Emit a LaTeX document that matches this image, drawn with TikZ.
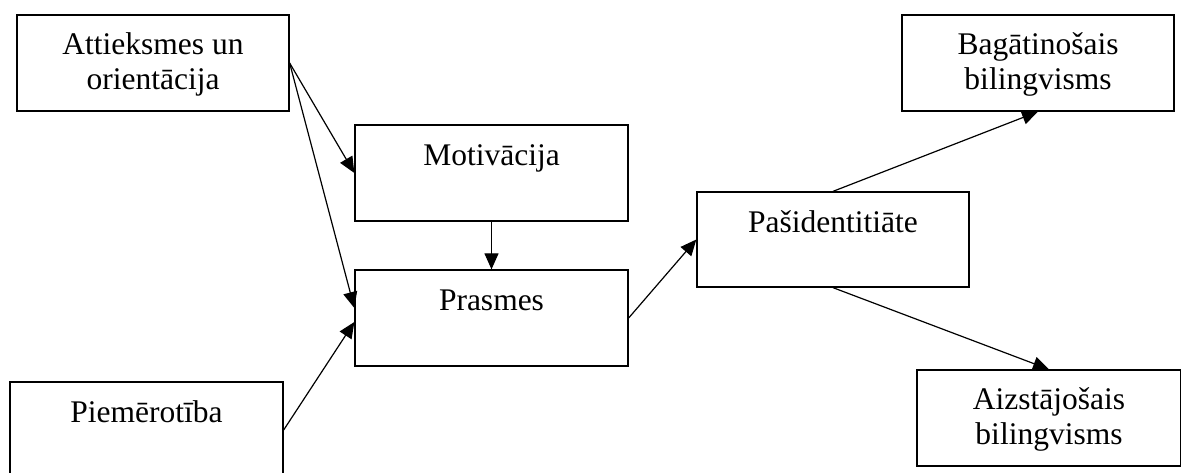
\documentclass[tikz,border=0pt]{standalone}
\usepackage{fontspec}
\setmainfont{Liberation Serif}
\usetikzlibrary{arrows.meta}
\begin{document}
\begin{tikzpicture}[x=1pt,y=-1pt,
  box/.style={draw=black, line width=1.3pt, inner sep=0pt, minimum width=#1, minimum height=96pt},
  box/.default=273pt,
  lbl/.style={inner sep=0pt, align=center, anchor=base, font=\fontsize{31.5}{35}\selectfont},
  arr/.style={line width=1.2pt, -{Triangle[length=16pt,width=14pt]}}]
\useasboundingbox (0,0) rectangle (1181,472);
% boxes
\node[box=272pt] (att) at (153,63) {};
\node[box] (mot) at (491.5,173) {};
\node[box] (pras) at (491.5,318) {};
\node[box] (pie) at (146.5,430) {};
\node[box=272pt, minimum height=95pt] (pas) at (833,239.5) {};
\node[box=272pt] (bag) at (1038,63) {};
\node[box=264pt] (aiz) at (1049,418) {};
% texts
\node[lbl] (tatt) at ([yshift=-75pt]att.north) {Attieksmes un\\orientācija};
\node[lbl] (tmot) at ([yshift=-41pt]mot.north) {Motivācija};
\node[lbl] (tpras) at ([yshift=-41pt]pras.north) {Prasmes};
\node[lbl] (tpie) at ([yshift=-41pt]pie.north) {Piemērotība};
\node[lbl] (tpas) at ([yshift=-41pt]pas.north) {Pašidentitiāte};
\node[lbl] (tbag) at ([yshift=-75pt]bag.north) {Bagātinošais\\bilingvisms};
\node[lbl] (taiz) at ([yshift=-75pt]aiz.north) {Aizstājošais\\bilingvisms};
% connectors
\coordinate (prasA) at ([yshift=10pt]pras.west);
\coordinate (prasB) at ([yshift=-4pt]pras.west);
\draw[arr] (att.east) -- (mot.west);
\draw[arr] (att.east) -- (prasA);
\draw[arr] (pie.east) -- (prasB);
\draw[arr] (mot.south) -- (pras.north);
\draw[arr] (pras.east) -- (pas.west);
\draw[arr] (pas.north) -- (bag.south);
\draw[arr] (pas.south) -- (aiz.north);
\end{tikzpicture}
\end{document}
